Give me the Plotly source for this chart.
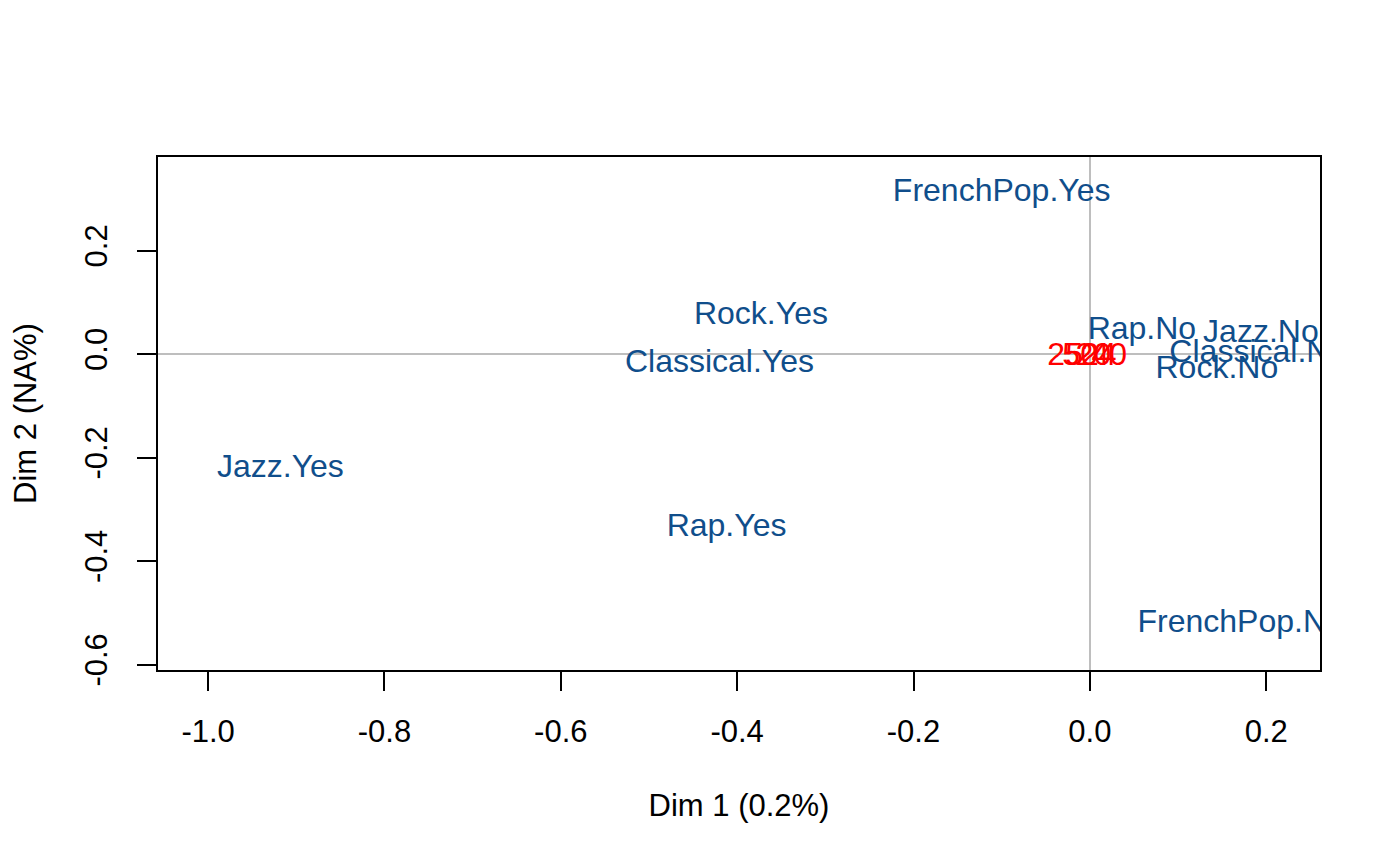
import plotly.graph_objects as go

# category coordinates (Dim 1, Dim 2)
cat_labels = ["FrenchPop.Yes", "Rock.Yes", "Classical.Yes", "Jazz.Yes", "Rap.Yes",
              "FrenchPop.No", "Rap.No", "Jazz.No", "Classical.No", "Rock.No"]
cat_x = [-0.100, -0.373, -0.420, -0.918, -0.412, 0.171, 0.059, 0.194, 0.191, 0.144]
cat_y = [0.312, 0.074, -0.020, -0.223, -0.337, -0.521, 0.045, 0.038, 0.001, -0.030]

# supplementary labels (red, overlapping near origin)
sup_labels = ["25", "50", "20", "40", "24"]
sup_x = [-0.028, -0.011, 0.004, 0.022, 0.010]
sup_y = [-0.006, -0.006, -0.006, -0.006, -0.006]

xticks = [-1.0, -0.8, -0.6, -0.4, -0.2, 0.0, 0.2]
yticks = [-0.6, -0.4, -0.2, 0.0, 0.2]

font = "Liberation Sans, Arial, sans-serif"

fig = go.Figure()
fig.add_trace(go.Scatter(x=cat_x, y=cat_y, mode="text", text=cat_labels,
                         textposition="middle center", cliponaxis=True,
                         textfont=dict(color="#104E8B", size=32, family=font),
                         showlegend=False, hoverinfo="skip"))
fig.add_trace(go.Scatter(x=sup_x, y=sup_y, mode="text", text=sup_labels,
                         textposition="middle center", cliponaxis=True,
                         textfont=dict(color="#FF0000", size=32, family=font),
                         showlegend=False, hoverinfo="skip"))

axis_common = dict(showgrid=False, zeroline=True, zerolinecolor="#BEBEBE", zerolinewidth=1.5,
                   showline=True, linecolor="black", linewidth=1.5, mirror=True,
                   ticks="outside", ticklen=19, tickwidth=1.5, tickcolor="black",
                   automargin=False,
                   tickfont=dict(size=31, color="black", family=font))

fig.update_xaxes(range=[-1.0568, 0.261], tickvals=xticks, ticktext=[f"{v:.1f}" for v in xticks],
                 ticklabelstandoff=14,
                 title=dict(text="Dim 1 (0.2%)", font=dict(size=31, color="black", family=font), standoff=46),
                 **axis_common)
fig.update_yaxes(range=[-0.6106, 0.3807], tickvals=yticks, ticktext=[f"{v:.1f}" for v in yticks],
                 tickangle=-90, ticklabelstandoff=18,
                 title=dict(text="Dim 2 (NA%)", font=dict(size=31, color="black", family=font), standoff=42),
                 **axis_common)

fig.update_layout(width=1400, height=866, plot_bgcolor="white", paper_bgcolor="white",
                  margin=dict(l=150, r=88, t=149, b=204))

fig.write_html("out.html")
